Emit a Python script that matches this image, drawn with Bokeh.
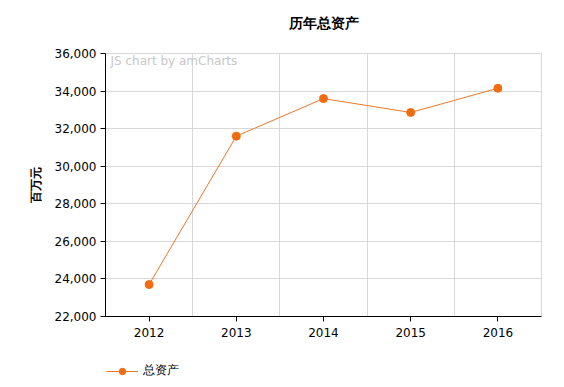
from bokeh.plotting import figure
from bokeh.layouts import column
from bokeh.models import (Range1d, FixedTicker, NumeralTickFormatter, Legend, LegendItem,
                          Label, ColumnDataSource)
from bokeh.embed import file_html
from bokeh.resources import INLINE

years = [2012, 2013, 2014, 2015, 2016]
total_assets = [23700, 31600, 33600, 32860, 34150]
y_ticks = [22000, 24000, 26000, 28000, 30000, 32000, 34000, 36000]

title = "历年总资产"
y_label = "百万元"
series_name = "总资产"

FONT = "DejaVu Sans"
LINE_COLOR = "#E8782A"
MARK_COLOR = "#F26B0F"


def strip(height):
    f = figure(width=556, height=height, output_backend="svg", toolbar_location=None,
               x_range=Range1d(0, 1), y_range=Range1d(0, 1),
               min_border_left=0, min_border_right=0, min_border_top=0, min_border_bottom=0)
    f.axis.visible = False
    f.grid.visible = False
    f.outline_line_color = None
    return f


# title strip (frames are aligned by the column layout)
top = strip(45)
top.add_layout(Label(x=0.5, y=0.5, text=title, text_align="center", text_baseline="middle",
                     text_font=FONT, text_font_size="14px", text_font_style="bold",
                     text_color="#000000"))

src = ColumnDataSource(dict(x=years, y=total_assets))

p = figure(width=556, height=300, output_backend="svg", toolbar_location=None,
           x_range=Range1d(2011.5, 2016.5), y_range=Range1d(22000, 36000),
           min_border_left=105, min_border_right=15, min_border_top=8, min_border_bottom=29)

p.outline_line_color = "#d8d8d8"
p.background_fill_color = "white"
p.border_fill_color = "white"

# axes
p.xaxis.ticker = FixedTicker(ticks=years)
p.xaxis.formatter = NumeralTickFormatter(format="0")
p.yaxis.ticker = FixedTicker(ticks=y_ticks)
p.yaxis.formatter = NumeralTickFormatter(format="0,0")
for ax in (p.xaxis[0], p.yaxis[0]):
    ax.axis_line_color = "black"
    ax.axis_line_width = 1
    ax.major_tick_line_color = "black"
    ax.major_tick_out = 5
    ax.major_tick_in = 0
    ax.minor_tick_line_color = None
    ax.major_label_text_font = FONT
    ax.major_label_text_font_size = "12px"
    ax.major_label_text_color = "#000000"
p.xaxis.major_label_standoff = 6
p.yaxis.major_label_standoff = 4
p.yaxis.axis_label = y_label
p.yaxis.axis_label_text_font = FONT
p.yaxis.axis_label_text_font_size = "12px"
p.yaxis.axis_label_text_font_style = "bold"
p.yaxis.axis_label_text_color = "#000000"
p.yaxis.axis_label_standoff = 9

# grid
p.xgrid.ticker = FixedTicker(ticks=[2012.5, 2013.5, 2014.5, 2015.5])
p.xgrid.grid_line_color = "#d8d8d8"
p.ygrid.grid_line_color = "#d8d8d8"

line = p.line("x", "y", source=src, line_color=LINE_COLOR, line_width=1)
pts = p.scatter("x", "y", source=src, size=8, fill_color=MARK_COLOR, line_color=MARK_COLOR)

credit = Label(x=5, y=256, x_units="screen", y_units="screen", text="JS chart by amCharts",
               text_font=FONT, text_font_size="12px", text_color="#c8c8c8",
               text_baseline="middle")
p.add_layout(credit)

# legend strip below the chart
lg = strip(34)
lg_src = ColumnDataSource(dict(x=[-5], y=[-5]))
lg_line = lg.line("x", "y", source=lg_src, line_color=LINE_COLOR, line_width=1)
lg_pts = lg.scatter("x", "y", source=lg_src, size=9, fill_color=MARK_COLOR, line_color=MARK_COLOR)
legend = Legend(items=[LegendItem(label=series_name, renderers=[lg_line, lg_pts])],
                location=(1, 0), orientation="horizontal",
                label_text_font=FONT, label_text_font_size="12px",
                label_text_color="#000000",
                glyph_width=32, glyph_height=16, label_standoff=5,
                border_line_color=None, background_fill_alpha=0,
                margin=0, padding=0)
lg.add_layout(legend)

layout = column(top, p, lg, spacing=0)
open("out.html", "w").write(file_html(layout, INLINE))
